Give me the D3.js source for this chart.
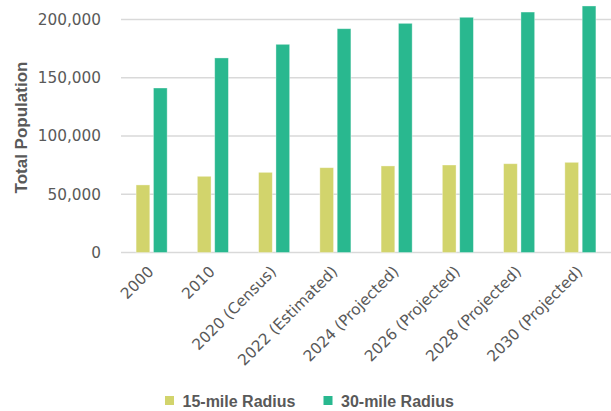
<!DOCTYPE html>
<html>
<head>
<meta charset="utf-8">
<script src="https://cdn.jsdelivr.net/npm/d3@7"></script>
<style>
  html, body { margin: 0; padding: 0; background: #fff; }
  svg { display: block; }
</style>
</head>
<body>
<svg id="chart" width="611" height="411"></svg>
<script>
// Population by year, two study radii
const categories = ["2000", "2010", "2020 (Census)", "2022 (Estimated)", "2024 (Projected)", "2026 (Projected)", "2028 (Projected)", "2030 (Projected)"];
const seriesNames = ["15-mile Radius", "30-mile Radius"];
const radius15 = [58000, 65400, 68800, 72800, 74300, 75100, 76200, 77400];
const radius30 = [141200, 167000, 178700, 192100, 196700, 201900, 206400, 211600];
const yTicks = [0, 50000, 100000, 150000, 200000];
const colors = ["#d2d46c", "#29b88f"];

const svg = d3.select("#chart");
const margin = { left: 121, right: 0, top: 19.5, bottom: 158.5 };
const W = 611, H = 411;

const x0 = d3.scaleBand().domain(categories).range([margin.left, W - margin.right]).padding(0);
const x1 = d3.scaleBand().domain(seriesNames).range([0, x0.bandwidth()]).paddingInner(0.21).paddingOuter(0.87);
const y = d3.scaleLinear().domain([0, 200000]).range([H - margin.bottom, margin.top]);

const textColor = "#595959";
const tickFont = "DejaVu Sans, sans-serif";

// Gridlines
svg.append("g")
  .selectAll("line")
  .data(yTicks)
  .join("line")
  .attr("x1", margin.left)
  .attr("x2", W)
  .attr("y1", d => y(d))
  .attr("y2", d => y(d))
  .attr("stroke", "#d9d9d9")
  .attr("stroke-width", 1.5);

// Y axis labels
const yAxis = d3.axisLeft(y).tickValues(yTicks).tickSize(0).tickPadding(0).tickFormat(d3.format(","));
svg.append("g")
  .attr("transform", `translate(101,0)`)
  .call(yAxis)
  .call(g => g.select(".domain").remove())
  .call(g => g.selectAll("text")
    .attr("fill", textColor)
    .style("font-family", tickFont)
    .style("font-size", "15.3px"));

// Y axis title
svg.append("text")
  .attr("transform", `translate(27,${(58 + 197) / 2}) rotate(-90)`)
  .attr("text-anchor", "middle")
  .attr("fill", textColor)
  .style("font-family", "Liberation Sans, Arial, sans-serif")
  .style("font-weight", "bold")
  .style("font-size", "17px")
  .text("Total Population");

// Bars
const rows = categories.map((c, i) => ({ cat: c, values: [radius15[i], radius30[i]] }));
const groups = svg.append("g")
  .selectAll("g")
  .data(rows)
  .join("g")
  .attr("transform", d => `translate(${x0(d.cat)},0)`);

groups.selectAll("rect")
  .data(d => d.values.map((v, k) => ({ key: seriesNames[k], value: v, k })))
  .join("rect")
  .attr("x", d => x1(d.key))
  .attr("width", x1.bandwidth())
  .attr("y", d => y(d.value))
  .attr("height", d => y(0) - y(d.value))
  .attr("fill", d => colors[d.k])
  .attr("stroke", "#ffffff")
  .attr("stroke-opacity", 0.45)
  .attr("stroke-width", 0.8);

// X axis labels (rotated)
const xAxis = d3.axisBottom(x0).tickSize(0).tickPadding(0);
svg.append("g")
  .attr("transform", `translate(0,${y(0)})`)
  .call(xAxis)
  .call(g => g.select(".domain").remove())
  .call(g => g.selectAll("text")
    .attr("fill", textColor)
    .style("font-family", tickFont)
    .style("font-size", "15.3px")
    .attr("text-anchor", "end")
    .attr("dy", null)
    .attr("y", null)
    .attr("transform", "translate(3,20) rotate(-45)"));

// Legend
const legendItems = [
  { name: seriesNames[0], color: colors[0], x: 165 },
  { name: seriesNames[1], color: colors[1], x: 323.5 }
];
const legend = svg.append("g")
  .selectAll("g")
  .data(legendItems)
  .join("g")
  .attr("transform", d => `translate(${d.x},396)`);
legend.append("rect")
  .attr("width", 9)
  .attr("height", 9)
  .attr("fill", d => d.color);
legend.append("text")
  .attr("x", 17.5)
  .attr("y", 10.8)
  .attr("fill", textColor)
  .style("font-family", "Liberation Sans, Arial, sans-serif")
  .style("font-weight", "bold")
  .style("font-size", "16px")
  .text(d => d.name);
</script>
</body>
</html>
